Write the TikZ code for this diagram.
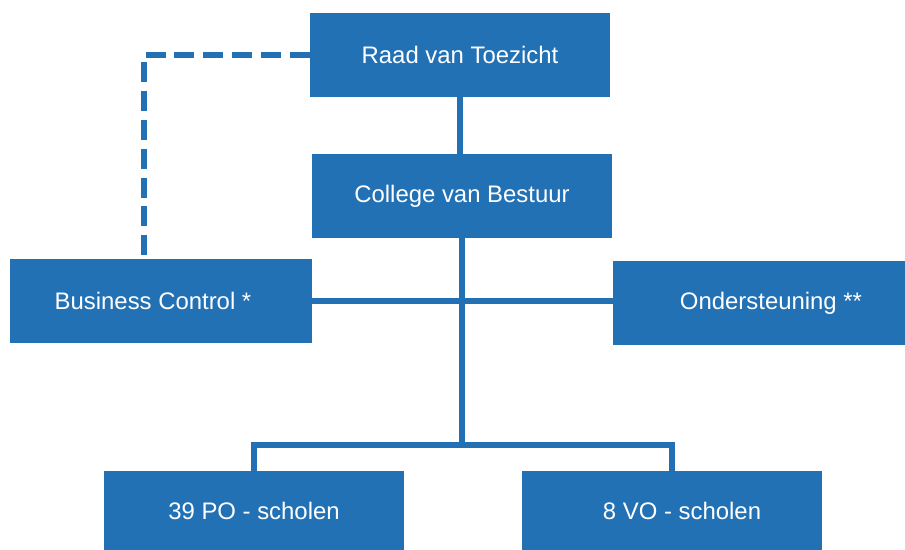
\documentclass[tikz,border=0pt]{standalone}
\usepackage{fontspec}
\setmainfont{Liberation Sans}
\usepackage{xcolor}
\usetikzlibrary{positioning}
\definecolor{orgblue}{RGB}{35,113,181}

\begin{document}
\begin{tikzpicture}[x=0.025cm,y=-0.025cm,
 unit/.style={rectangle,fill=orgblue,text=white,font=\fontsize{17}{20}\selectfont,
   minimum width=7.5cm,minimum height=2.1cm,inner sep=0pt},
 link/.style={draw=orgblue,line width=4.2pt},
 dashlink/.style={draw=orgblue,line width=4.2pt,dash pattern=on 0.5cm off 0.22cm}
]
\useasboundingbox (0,0) rectangle (905,550);
\clip (0,0) rectangle (905,550);

\node[unit] (rvt) at (460,55) {Raad van Toezicht};
\node[unit] (cvb) at (462,196) {College van Bestuur};
\node[unit,minimum width=7.55cm] (bc) at (161,301) {\hspace*{-0.4cm}Business Control *};
\node[unit,minimum width=7.3cm] (ond) at (759,303) {\hspace*{0.6cm}Ondersteuning **};
\node[unit,minimum height=2cm] (po) at (254,511) {39 PO - scholen};
\node[unit,minimum height=2cm] (vo) at (672,511) {\hspace*{0.5cm}8 VO - scholen};

\coordinate (split) at (462,445);

\draw[link] (rvt.south) -- (rvt.south |- cvb.north);
\draw[link] (cvb.south) -- (split);
\draw[link] (bc.east) -- (bc.east -| ond.west);
\draw[link] ([xshift=-0.07cm]split -| po.north) -- ([xshift=0.07cm]split -| vo.north);
\foreach \s in {po,vo}
 \draw[link] (split -| \s.north) -- (\s.north);
\draw[dashlink] (rvt.west) -| ([xshift=-0.42cm]bc.north);
\end{tikzpicture}
\end{document}
